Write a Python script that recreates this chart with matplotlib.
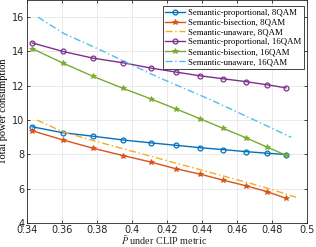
import matplotlib
matplotlib.use("Agg")
import matplotlib.pyplot as plt

# x positions (P-bar under CLIP metric)
x_pts = [0.3429, 0.3606, 0.3777, 0.3949, 0.4109, 0.4251, 0.4389, 0.4520, 0.4651, 0.4771, 0.4880]

prop_8qam = [9.61, 9.26, 9.06, 8.84, 8.67, 8.53, 8.39, 8.28, 8.16, 8.07, 7.99]
bis_8qam = [9.38, 8.84, 8.36, 7.93, 7.55, 7.16, 6.85, 6.50, 6.17, 5.83, 5.44]
prop_16qam = [14.50, 14.00, 13.61, 13.34, 13.03, 12.80, 12.58, 12.41, 12.24, 12.06, 11.88]
bis_16qam = [14.17, 13.32, 12.55, 11.85, 11.23, 10.65, 10.08, 9.52, 8.97, 8.43, 7.95]

x_unaware_8 = [0.3457, 0.3604, 0.3780, 0.3960, 0.4140, 0.4320, 0.4500, 0.4680, 0.4800, 0.4937]
unaware_8qam = [10.00, 9.32, 8.80, 8.30, 7.80, 7.30, 6.80, 6.30, 5.95, 5.50]

x_unaware_16 = [0.3463, 0.3610, 0.3817, 0.3950, 0.4160, 0.4446, 0.4700, 0.4909]
unaware_16qam = [16.00, 15.05, 14.10, 13.45, 12.45, 11.20, 10.00, 9.00]

labels = ["Semantic-proportional, 8QAM", "Semantic-bisection, 8QAM", "Semantic-unaware, 8QAM",
          "Semantic-proportional, 16QAM", "Semantic-bisection, 16QAM", "Semantic-unaware, 16QAM"]
colors = ["#0072BD", "#D95319", "#EDB120", "#7E2F8E", "#77AC30", "#4DBEEE"]

xticks = [0.34, 0.36, 0.38, 0.4, 0.42, 0.44, 0.46, 0.48, 0.5]
xticklabels = ["0.34", "0.36", "0.38", "0.4", "0.42", "0.44", "0.46", "0.48", "0.5"]
yticks = [4, 6, 8, 10, 12, 14, 16]

plt.rcParams['mathtext.fontset'] = 'stix'
fig = plt.figure(figsize=(3.16, 2.47), dpi=100)
ax = fig.add_axes([27/316, 24/247, 280/316, 223/247])

lw = 1.0
dashdot = (0, (5, 2, 1, 2))
ax.plot(x_pts, prop_8qam, color=colors[0], lw=lw, marker='o', ms=3.5, mfc='none', mew=0.9, label=labels[0])
ax.plot(x_pts, bis_8qam, color=colors[1], lw=lw, marker='*', ms=3.8, mew=0.6, label=labels[1])
ax.plot(x_unaware_8, unaware_8qam, color=colors[2], lw=lw, ls=dashdot, label=labels[2])
ax.plot(x_pts, prop_16qam, color=colors[3], lw=lw, marker='o', ms=3.5, mfc='none', mew=0.9, label=labels[3])
ax.plot(x_pts, bis_16qam, color=colors[4], lw=lw, marker='*', ms=3.8, mew=0.6, label=labels[4])
ax.plot(x_unaware_16, unaware_16qam, color=colors[5], lw=lw, ls=dashdot, label=labels[5])

ax.set_xlim(0.34, 0.5)
ax.set_ylim(4, 17)
ax.set_xticks(xticks)
ax.set_xticklabels(xticklabels)
ax.set_yticks(yticks)
ax.grid(True, color='#e6e6e6', lw=0.6)
ax.set_axisbelow(True)
ax.tick_params(direction='in', length=2.5, width=0.6, labelsize=7, colors='#262626',
               top=True, right=True, pad=2)
ax.tick_params(axis='x', pad=1.2)
for s in ax.spines.values():
    s.set_linewidth(0.6)
    s.set_color('#262626')

fig.text(164/316, 0.5/247, r"$\bar{P}$ under CLIP metric", fontsize=7.3, family='Liberation Serif',
         ha='center', va='bottom', color='#262626')
ax.set_ylabel("Total power consumption", fontsize=7.5, family='Liberation Serif', labelpad=3)

leg = ax.legend(loc='upper right', bbox_to_anchor=(0.989, 0.973),
                prop={'family': 'Liberation Serif', 'size': 6.3},
                frameon=True, fancybox=False, edgecolor='#262626', framealpha=1,
                borderpad=0.3, labelspacing=0.2, handlelength=2.2, handletextpad=0.4,
                borderaxespad=0.0)
leg.get_frame().set_linewidth(0.6)

fig.savefig("out.png", dpi=100)
